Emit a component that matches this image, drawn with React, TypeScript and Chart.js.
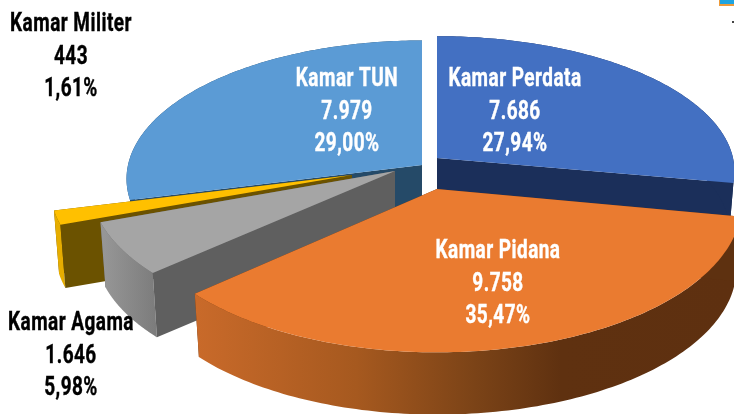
import React, { useEffect, useRef } from "react";
import { Chart, registerables } from "chart.js";

Chart.register(...registerables);

const categories = ["Kamar Perdata", "Kamar Pidana", "Kamar Agama", "Kamar Militer", "Kamar TUN"];
const caseCounts = [7686, 9758, 1646, 443, 7979];
const countLabels = ["7.686", "9.758", "1.646", "443", "7.979"];
const shareLabels = ["27,94%", "35,47%", "5,98%", "1,61%", "29,00%"];

const topColors = ["#4370c2", "#ea7b30", "#a5a5a5", "#ffc000", "#5b9bd5"];
const cutColors = ["#1b2f5a", "#5e3110", "#5f5f5f", "#6b5200", "#254a68"];
const labelColors = ["#fff", "#fff", "#000", "#000", "#fff"];

// Perspective projection of each exploded slice of the tilted pie.
const slices = [
  { ax: 437, ay: 158, rx: 296, ry: 134, d: 60 },
  { ax: 437, ay: 189, rx: 303, ry: 147, d: 65 },
  { ax: 395, ay: 171, rx: 303, ry: 143, d: 66 },
  { ax: 352, ay: 175, rx: 300, ry: 139, d: 64 },
  { ax: 422, ay: 165, rx: 294, ry: 137, d: 42 },
];
const labelAnchors = [
  { x: 515, y: 80 },
  { x: 498, y: 252 },
  { x: 71, y: 324 },
  { x: 71, y: 25 },
  { x: 347, y: 80 },
];
const drawOrder = [4, 0, 3, 2, 1];
const perspective = 0.1;
const sideShrink = 0.983;
const lineGap = 32.5;

const pie3d = {
  id: "pie3d",
  beforeDatasetDraw: () => false,
  afterDatasetsDraw(chart: any) {
    const ctx: CanvasRenderingContext2D = chart.ctx;
    const arcs = chart.getDatasetMeta(0).data;

    const top = (s: any, a: number) => {
      const u = Math.cos(a), v = Math.sin(a);
      const w = 1 - perspective * v;
      return [s.ax + (s.rx * u) / w, s.ay + (s.ry * v) / w];
    };
    const bottom = (s: any, a: number) => {
      const [x, y] = top(s, a);
      return [s.ax + (x - s.ax) * sideShrink, s.ay + (y - s.ay) * sideShrink + s.d];
    };
    const fillPoly = (pts: number[][], fill: any) => {
      ctx.beginPath();
      pts.forEach((p, i) => (i ? ctx.lineTo(p[0], p[1]) : ctx.moveTo(p[0], p[1])));
      ctx.closePath();
      ctx.fillStyle = fill;
      ctx.fill();
    };

    const sideFill = (i: number) => {
      if (i === 1) {
        const g = ctx.createLinearGradient(195, 0, 734, 0);
        g.addColorStop(0, "#c96a2a");
        g.addColorStop(0.3, "#a6591f");
        g.addColorStop(0.52, "#7b4317");
        g.addColorStop(0.68, "#5f3110");
        g.addColorStop(1, "#5e3010");
        return g;
      }
      if (i === 2) {
        const g = ctx.createLinearGradient(104, 0, 156, 0);
        g.addColorStop(0, "#969696");
        g.addColorStop(1, "#7c7c7c");
        return g;
      }
      if (i === 3) return "#e6ad00";
      return cutColors[i];
    };

    for (const i of drawOrder) {
      const s = slices[i];
      const { startAngle, endAngle } = arcs[i];
      const center = [s.ax, s.ay];
      const cut = (a: number) => [center, top(s, a), bottom(s, a), [s.ax, s.ay + s.d]];
      const steps: number[] = [];
      for (let n = 0; n <= 120; n++) steps.push(startAngle + ((endAngle - startAngle) * n) / 120);

      fillPoly(cut(endAngle), cutColors[i]);
      fillPoly(
        [...steps.map((a) => top(s, a)), ...[...steps].reverse().map((a) => bottom(s, a))],
        sideFill(i)
      );
      fillPoly(cut(startAngle), cutColors[i]);
      fillPoly([center, ...steps.map((a) => top(s, a))], topColors[i]);
    }

    ctx.textAlign = "center";
    ctx.textBaseline = "middle";
    ctx.font = 'bold 25px "Roboto"';
    (ctx as any).letterSpacing = "0.6px";
    categories.forEach((name, i) => {
      [name, countLabels[i], shareLabels[i]].forEach((line, j) => {
        ctx.save();
        ctx.translate(labelAnchors[i].x, labelAnchors[i].y + j * lineGap);
        ctx.scale(0.76, 1);
        ctx.fillStyle = labelColors[i];
        ctx.strokeStyle = labelColors[i];
        ctx.lineWidth = 0.4;
        ctx.fillText(line, 0, 0);
        ctx.strokeText(line, 0, 0);
        ctx.restore();
      });
    });

    // Fragment of a cropped legend in the top right corner.
    ctx.fillStyle = "#ed9a3a";
    ctx.fillRect(719, 0, 15, 6);
    ctx.fillStyle = "#1fa4e0";
    ctx.fillRect(720, 0, 14, 4);
    ctx.fillStyle = "#444";
    ctx.fillRect(732, 21, 2, 2);
  },
};

export default function App() {
  const ref = useRef<HTMLCanvasElement>(null);
  useEffect(() => {
    document.body.style.margin = "0";
    const chart = new Chart(ref.current!, {
      type: "pie",
      data: {
        labels: categories,
        datasets: [{ data: caseCounts, backgroundColor: topColors, borderWidth: 0 }],
      },
      options: {
        responsive: false,
        animation: false,
        plugins: { legend: { display: false }, tooltip: { enabled: false } },
      },
      plugins: [pie3d],
    } as any);
    return () => chart.destroy();
  }, []);
  return <canvas ref={ref} width={734} height={414} style={{ display: "block" }} />;
}
